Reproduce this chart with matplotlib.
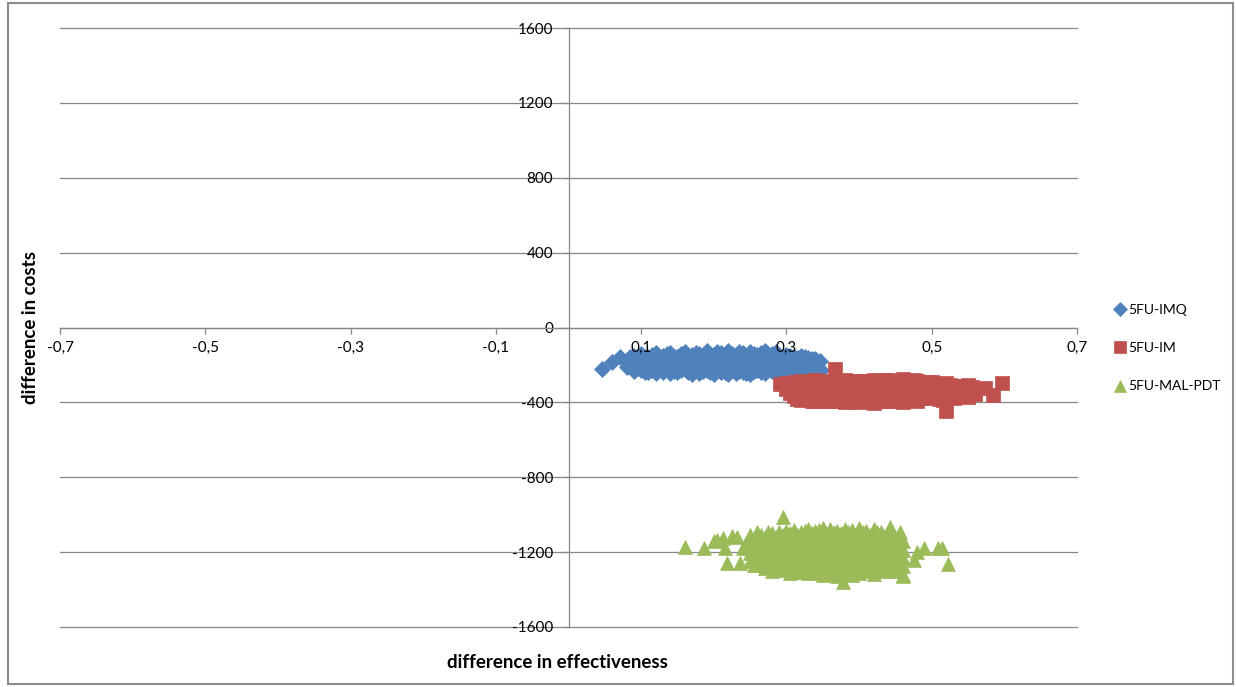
import matplotlib.pyplot as plt
from matplotlib.patches import Rectangle

plt.rcParams['font.family'] = ['Lato', 'DejaVu Sans']

# ---- data ----
imq_x = [0.046, 0.060, 0.071,
         0.08, 0.08,
         0.09, 0.09, 0.09,
         0.10, 0.10, 0.10,
         0.11, 0.11, 0.11,
         0.12, 0.12, 0.12, 0.12,
         0.13, 0.13, 0.13,
         0.14, 0.14, 0.14, 0.14,
         0.15, 0.15, 0.15,
         0.16, 0.16, 0.16,
         0.17, 0.17, 0.17, 0.17,
         0.18, 0.18, 0.18, 0.18,
         0.19, 0.19, 0.19,
         0.20, 0.20, 0.20,
         0.21, 0.21, 0.21, 0.21,
         0.22, 0.22, 0.22, 0.22,
         0.23, 0.23, 0.23, 0.23,
         0.24, 0.24, 0.24,
         0.25, 0.25, 0.25, 0.25,
         0.26, 0.26, 0.26,
         0.27, 0.27, 0.27, 0.27,
         0.28, 0.28, 0.28,
         0.29, 0.29, 0.29,
         0.30, 0.30, 0.30,
         0.31, 0.31, 0.31,
         0.32, 0.32, 0.32,
         0.33, 0.33, 0.33,
         0.34, 0.34,
         0.346, 0.348,
         0.085, 0.085,
         0.095, 0.095,
         0.105, 0.105, 0.105,
         0.115, 0.115, 0.115,
         0.125, 0.125,
         0.135, 0.135, 0.135,
         0.145, 0.145, 0.145,
         0.155, 0.155, 0.155,
         0.165, 0.165, 0.165,
         0.175, 0.175, 0.175,
         0.185, 0.185, 0.185,
         0.195, 0.195, 0.195,
         0.205, 0.205, 0.205,
         0.215, 0.215, 0.215,
         0.225, 0.225, 0.225,
         0.235, 0.235, 0.235,
         0.245, 0.245, 0.245, 0.245,
         0.255, 0.255, 0.255,
         0.265, 0.265, 0.265, 0.265,
         0.275, 0.275, 0.275,
         0.285, 0.285, 0.285, 0.285,
         0.295, 0.295, 0.295,
         0.305, 0.305, 0.305,
         0.315, 0.315, 0.315,
         0.325, 0.325, 0.325,
         0.335, 0.335]
imq_y = [-222, -184, -158,
         -175, -210,
         -150, -195, -232,
         -140, -185, -225,
         -160, -205, -240,
         -135, -180, -220, -245,
         -150, -195, -238,
         -138, -172, -215, -245,
         -155, -200, -240,
         -130, -178, -222,
         -148, -190, -235, -248,
         -140, -168, -210, -242,
         -125, -182, -228,
         -145, -200, -246,
         -135, -170, -218, -240,
         -128, -188, -232, -250,
         -150, -175, -212, -245,
         -138, -195, -238,
         -130, -165, -220, -248,
         -148, -185, -228,
         -125, -172, -210, -242,
         -140, -192, -235,
         -150, -180, -222,
         -145, -200, -238,
         -160, -185, -215,
         -150, -195, -230,
         -165, -190, -215,
         -170, -200,
         -180, -228,
         -160, -200,
         -170, -215,
         -160, -205, -240,
         -145, -190, -228,
         -160, -205,
         -140, -180, -222,
         -160, -200, -235,
         -140, -182, -225,
         -158, -205, -240,
         -135, -175, -218,
         -155, -195, -235,
         -145, -205, -240,
         -130, -170, -222,
         -152, -195, -238,
         -140, -180, -222,
         -130, -195, -235,
         -150, -172, -215, -245,
         -142, -190, -232,
         -135, -165, -205, -240,
         -150, -190, -228,
         -132, -165, -210, -245,
         -160, -200, -230,
         -150, -175, -220,
         -165, -205, -228,
         -160, -180, -210,
         -170, -205]

im_x = [0.291,
        0.30, 0.30,
        0.31, 0.31, 0.31,
        0.32, 0.32, 0.32, 0.32,
        0.33, 0.33, 0.33,
        0.34, 0.34, 0.34, 0.34,
        0.35, 0.35, 0.35,
        0.36, 0.36, 0.36, 0.36,
        0.367,
        0.37, 0.37, 0.37,
        0.38, 0.38, 0.38, 0.38,
        0.39, 0.39, 0.39,
        0.40, 0.40, 0.40, 0.40,
        0.41, 0.41, 0.41,
        0.42, 0.42, 0.42, 0.42,
        0.43, 0.43, 0.43,
        0.44, 0.44, 0.44, 0.44,
        0.45, 0.45, 0.45,
        0.46, 0.46, 0.46, 0.46,
        0.47, 0.47, 0.47,
        0.48, 0.48, 0.48, 0.48,
        0.49, 0.49, 0.49,
        0.50, 0.50, 0.50,
        0.51, 0.51, 0.51,
        0.52, 0.52, 0.52,
        0.53, 0.53, 0.53,
        0.54, 0.54,
        0.55, 0.55, 0.55,
        0.56, 0.56,
        0.574, 0.584, 0.597,
        0.305, 0.305,
        0.315, 0.315, 0.315,
        0.325, 0.325, 0.325,
        0.335, 0.335, 0.335, 0.335,
        0.345, 0.345, 0.345,
        0.355, 0.355, 0.355, 0.355,
        0.365, 0.365, 0.365,
        0.375, 0.375, 0.375, 0.375,
        0.385, 0.385, 0.385,
        0.395, 0.395, 0.395, 0.395,
        0.405, 0.405, 0.405,
        0.415, 0.415, 0.415, 0.415,
        0.425, 0.425, 0.425,
        0.435, 0.435, 0.435, 0.435,
        0.445, 0.445, 0.445,
        0.455, 0.455, 0.455, 0.455,
        0.465, 0.465, 0.465,
        0.475, 0.475, 0.475, 0.475,
        0.485, 0.485, 0.485,
        0.495, 0.495, 0.495,
        0.505, 0.505, 0.505,
        0.515, 0.515, 0.515,
        0.525, 0.525, 0.525,
        0.535, 0.535,
        0.545, 0.545, 0.545,
        0.555, 0.555]
im_y = [-300,
        -295, -330,
        -290, -325, -365,
        -285, -320, -355, -385,
        -300, -340, -375,
        -280, -315, -350, -392,
        -295, -335, -370,
        -285, -320, -360, -395,
        -222,
        -300, -345, -380,
        -280, -325, -365, -400,
        -295, -340, -385,
        -285, -318, -355, -395,
        -300, -345, -380,
        -278, -325, -362, -402,
        -290, -335, -375,
        -282, -315, -352, -392,
        -298, -340, -380,
        -276, -322, -360, -398,
        -292, -335, -372,
        -285, -318, -355, -390,
        -300, -340, -378,
        -290, -325, -362,
        -305, -345, -380,
        -298, -335, -446,
        -310, -350, -375,
        -320, -345,
        -305, -340, -370,
        -330, -355,
        -323, -360, -296,
        -310, -350,
        -305, -345, -380,
        -300, -338, -372,
        -285, -320, -358, -390,
        -300, -340, -378,
        -290, -318, -352, -392,
        -300, -340, -378,
        -285, -322, -362, -395,
        -300, -345, -380,
        -288, -318, -358, -398,
        -302, -338, -375,
        -285, -320, -360, -396,
        -300, -345, -382,
        -280, -318, -355, -395,
        -300, -335, -372,
        -285, -320, -358, -392,
        -300, -342, -380,
        -282, -318, -358, -388,
        -300, -338, -375,
        -290, -322, -360,
        -300, -340, -372,
        -310, -352, -385,
        -305, -340, -368,
        -318, -358,
        -310, -335, -365,
        -320, -348]

pdt_x = [0.160, 0.186, 0.200, 0.205, 0.212, 0.215, 0.218, 0.225, 0.232, 0.236,
         0.240, 0.245,
         0.25, 0.25, 0.25, 0.25,
         0.26, 0.26, 0.26, 0.26, 0.26,
         0.27, 0.27, 0.27, 0.27,
         0.28, 0.28, 0.28, 0.28, 0.28,
         0.29, 0.29, 0.29, 0.29, 0.29,
         0.295,
         0.30, 0.30, 0.30, 0.30, 0.30,
         0.31, 0.31, 0.31, 0.31, 0.31,
         0.32, 0.32, 0.32, 0.32, 0.32,
         0.33, 0.33, 0.33, 0.33, 0.33, 0.33,
         0.34, 0.34, 0.34, 0.34, 0.34,
         0.35, 0.35, 0.35, 0.35, 0.35, 0.35,
         0.36, 0.36, 0.36, 0.36, 0.36, 0.36,
         0.37, 0.37, 0.37, 0.37, 0.37, 0.37,
         0.378,
         0.38, 0.38, 0.38, 0.38, 0.38, 0.38,
         0.39, 0.39, 0.39, 0.39, 0.39, 0.39,
         0.40, 0.40, 0.40, 0.40, 0.40, 0.40,
         0.41, 0.41, 0.41, 0.41, 0.41,
         0.42, 0.42, 0.42, 0.42, 0.42, 0.42,
         0.43, 0.43, 0.43, 0.43, 0.43,
         0.44, 0.44, 0.44, 0.44, 0.44,
         0.443, 0.456,
         0.45, 0.45, 0.45, 0.45, 0.45,
         0.46, 0.46, 0.46, 0.46, 0.46,
         0.461, 0.475, 0.48, 0.489, 0.508, 0.514, 0.522,
         0.255, 0.255, 0.255, 0.255,
         0.265, 0.265, 0.265, 0.265,
         0.275, 0.275, 0.275, 0.275, 0.275,
         0.285, 0.285, 0.285, 0.285, 0.285,
         0.295, 0.295, 0.295, 0.295, 0.295,
         0.305, 0.305, 0.305, 0.305, 0.305, 0.305,
         0.315, 0.315, 0.315, 0.315, 0.315,
         0.325, 0.325, 0.325, 0.325, 0.325,
         0.335, 0.335, 0.335, 0.335, 0.335,
         0.345, 0.345, 0.345, 0.345, 0.345, 0.345,
         0.355, 0.355, 0.355, 0.355, 0.355,
         0.365, 0.365, 0.365, 0.365, 0.365, 0.365,
         0.375, 0.375, 0.375, 0.375, 0.375,
         0.385, 0.385, 0.385, 0.385, 0.385,
         0.395, 0.395, 0.395, 0.395, 0.395,
         0.405, 0.405, 0.405, 0.405, 0.405,
         0.415, 0.415, 0.415, 0.415, 0.415,
         0.425, 0.425, 0.425, 0.425, 0.425,
         0.435, 0.435, 0.435, 0.435, 0.435,
         0.445, 0.445, 0.445, 0.445, 0.445,
         0.455, 0.455, 0.455, 0.455]
pdt_y = [-1172, -1177, -1140, -1137, -1125, -1177, -1257, -1115, -1119, -1257,
         -1180, -1150,
         -1110, -1160, -1205, -1250,
         -1095, -1140, -1190, -1235, -1270,
         -1120, -1170, -1215, -1285,
         -1100, -1150, -1195, -1240, -1300,
         -1090, -1135, -1180, -1225, -1270,
         -1012,
         -1085, -1155, -1200, -1250, -1295,
         -1080, -1140, -1185, -1230, -1275,
         -1090, -1160, -1210, -1255, -1305,
         -1075, -1130, -1175, -1220, -1265, -1310,
         -1085, -1150, -1195, -1240, -1290,
         -1070, -1140, -1185, -1230, -1275, -1320,
         -1075, -1125, -1170, -1215, -1260, -1300,
         -1085, -1150, -1195, -1240, -1285, -1325,
         -1362,
         -1075, -1135, -1180, -1225, -1270, -1315,
         -1080, -1145, -1190, -1235, -1280, -1320,
         -1070, -1130, -1175, -1220, -1265, -1310,
         -1085, -1150, -1195, -1240, -1285,
         -1075, -1140, -1185, -1230, -1275, -1315,
         -1090, -1155, -1200, -1245, -1290,
         -1095, -1145, -1190, -1235, -1280,
         -1066, -1093,
         -1120, -1170, -1215, -1260, -1300,
         -1140, -1190, -1230, -1275, -1320,
         -1325, -1240, -1200, -1177, -1177, -1180, -1262,
         -1130, -1180, -1225, -1270,
         -1110, -1160, -1210, -1255,
         -1095, -1140, -1190, -1235, -1270,
         -1120, -1165, -1210, -1255, -1290,
         -1110, -1160, -1200, -1250, -1290,
         -1100, -1130, -1175, -1225, -1270, -1310,
         -1110, -1160, -1210, -1250, -1295,
         -1085, -1130, -1185, -1230, -1280,
         -1100, -1150, -1200, -1245, -1295,
         -1080, -1120, -1170, -1215, -1265, -1310,
         -1100, -1160, -1205, -1250, -1300,
         -1090, -1140, -1190, -1235, -1280, -1315,
         -1100, -1165, -1215, -1260, -1305,
         -1090, -1155, -1200, -1245, -1295,
         -1110, -1165, -1210, -1255, -1300,
         -1090, -1150, -1195, -1240, -1290,
         -1110, -1170, -1215, -1260, -1300,
         -1095, -1160, -1205, -1255, -1295,
         -1120, -1170, -1215, -1265, -1300,
         -1110, -1165, -1210, -1255, -1295,
         -1150, -1200, -1250, -1290]

series = [
    ('5FU-IMQ', imq_x, imq_y, 'D', 8.5, '#4F81BD'),
    ('5FU-IM', im_x, im_y, 's', 10, '#C0504D'),
    ('5FU-MAL-PDT', pdt_x, pdt_y, '^', 10.5, '#9BBB59'),
]

x_ticks = [-0.7, -0.5, -0.3, -0.1, 0.1, 0.3, 0.5, 0.7]
x_labels = ['-0,7', '-0,5', '-0,3', '-0,1', '0,1', '0,3', '0,5', '0,7']
y_ticks = [-1600, -1200, -800, -400, 0, 400, 800, 1200, 1600]
y_labels = ['-1600', '-1200', '-800', '-400', '0', '400', '800', '1200', '1600']

grid_col = '#878787'

fig = plt.figure(figsize=(12.36, 6.87), dpi=100)
ax = fig.add_axes([60 / 1236, 1 - 627 / 687, 1017 / 1236, 599 / 687])
ax.set_xlim(-0.7, 0.7)
ax.set_ylim(-1600, 1600)

# horizontal gridlines under the markers
for yv in y_ticks:
    ax.axhline(yv, color=grid_col, lw=0.9, zorder=0.5, clip_on=False)

handles = []
for name, xs, ys, mk, ms, col in series:
    h, = ax.plot(xs, ys, linestyle='none', marker=mk, markersize=ms,
                 color=col, markeredgecolor=col, markeredgewidth=0.5,
                 zorder=1, label=name)
    handles.append(h)

# axes crossing at zero
for side in ['top', 'right']:
    ax.spines[side].set_visible(False)
ax.spines['left'].set_position(('data', 0))
ax.spines['bottom'].set_position(('data', 0))
for side in ['left', 'bottom']:
    ax.spines[side].set_color(grid_col)
    ax.spines[side].set_linewidth(0.9)
    ax.spines[side].set_zorder(1.6)

ax.set_xticks(x_ticks)
ax.set_xticklabels(x_labels)
ax.set_yticks(y_ticks)
ax.set_yticklabels(y_labels)
ax.tick_params(axis='x', direction='out', length=4, width=0.9, color=grid_col,
               pad=6, labelsize=11, labelcolor='black')
ax.tick_params(axis='y', direction='out', length=4, width=0.9, color=grid_col,
               pad=7, labelsize=11, labelcolor='black')
ax.patch.set_visible(False)

fig.text(557 / 1236, 1 - 662 / 687, 'difference in effectiveness',
         ha='center', va='center', fontsize=13.5, fontweight='bold')
fig.text(31 / 1236, 1 - 327 / 687, 'difference in costs', rotation=90,
         ha='center', va='center', fontsize=13.5, fontweight='bold')

fig.legend(handles=handles, loc='center left',
           bbox_to_anchor=(1103 / 1236, 1 - 348 / 687), frameon=False,
           fontsize=10, labelspacing=1.9, handlelength=0.6,
           handletextpad=0.35, markerscale=0.8)

# outer chart border
fig.patches.append(Rectangle((8 / 1236, 3 / 687), 1225 / 1236, 681 / 687,
                             transform=fig.transFigure, fill=False,
                             edgecolor='#8c8c8c', lw=1.5))

fig.savefig('out.png', dpi=100)
